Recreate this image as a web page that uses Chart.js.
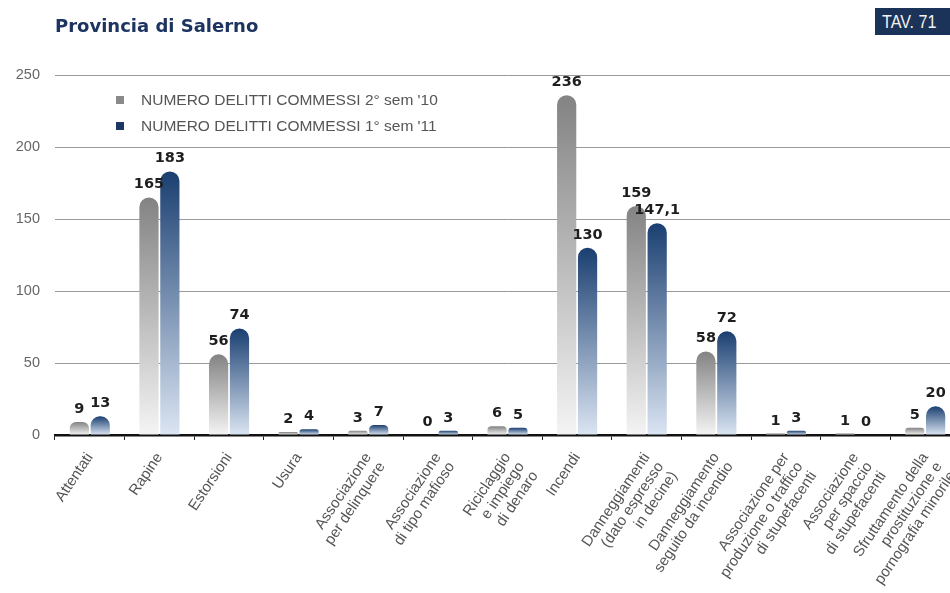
<!DOCTYPE html>
<html>
<head>
<meta charset="utf-8">
<script src="https://cdn.jsdelivr.net/npm/chart.js@4.4.1/dist/chart.umd.min.js"></script>
<style>
    body { margin: 0; width: 950px; height: 593px; overflow: hidden; background: #fff; position: relative; }
    .title { position: absolute; left: 55px; top: 15px; font-family: "DejaVu Sans", sans-serif; font-weight: bold; font-size: 18px; color: #1d3461; }
    .tav { position: absolute; left: 875px; top: 8px; width: 85px; height: 27px; background: #1b3358; }
    .tav span { position: absolute; left: 7px; top: 3px; color: #f2f2f2; font-family: "Liberation Sans", sans-serif; font-size: 19px; transform: scaleX(0.85); transform-origin: left top; }
    .wrap { position: absolute; left: 0; top: 0; width: 960px; height: 593px; }
    .legend { position: absolute; left: 116px; top: 90px; font-family: "Liberation Sans", Arial, sans-serif; font-size: 15.5px; color: #555; }
    .legend div { height: 26px; line-height: 20px; white-space: nowrap; }
    .legend span { display: inline-block; width: 8px; height: 8px; margin-right: 17px; vertical-align: 1px; }
</style>
</head>
<body>
<div class="wrap"><canvas id="chart" width="960" height="593"></canvas></div>
<div class="title">Provincia di Salerno</div>
<div class="tav"><span>TAV. 71</span></div>
<div class="legend">
    <div><span style="background:#8a8a8a"></span>NUMERO DELITTI COMMESSI 2° sem '10</div>
    <div><span style="background:#1c3561"></span>NUMERO DELITTI COMMESSI 1° sem '11</div>
</div>
<script>
// Categories
const categories = [
    ['Attentati'],
    ['Rapine'],
    ['Estorsioni'],
    ['Usura'],
    ['Associazione', 'per delinquere'],
    ['Associazione', 'di tipo mafioso'],
    ['Riciclaggio', 'e impiego', 'di denaro'],
    ['Incendi'],
    ['Danneggiamenti', '(dato espresso', 'in decine)'],
    ['Danneggiamento', 'seguito da incendio'],
    ['Associazione per', 'produzione o traffico', 'di stupefacenti'],
    ['Associazione', 'per spaccio', 'di stupefacenti'],
    ['Sfruttamento della', 'prostituzione e', 'pornografia minorile']
];

// Series
const sem2_10 = [9, 165, 56, 2, 3, 0, 6, 236, 159, 58, 1, 1, 5];
const sem1_11 = [13, 183, 74, 4, 7, 3, 5, 130, 147.1, 72, 3, 0, 20];
const seriesNames = ["NUMERO DELITTI COMMESSI 2° sem '10", "NUMERO DELITTI COMMESSI 1° sem '11"];

// Y ticks
const yTicks = [0, 50, 100, 150, 200, 250];

// gradient from top of each bar down to the base
function barGradient(context, top, bottom) {
    const chart = context.chart;
    if (!chart.chartArea || context.type !== 'data') return top;
    const y = chart.scales.y;
    const y0 = y.getPixelForValue(context.raw);
    const y1 = y.getPixelForValue(0);
    if (y1 - y0 < 1) return top;
    const g = chart.ctx.createLinearGradient(0, y0, 0, y1);
    g.addColorStop(0, top);
    g.addColorStop(1, bottom);
    return g;
}

const valueLabels = {
    id: 'valueLabels',
    afterDatasetsDraw(chart) {
        const ctx = chart.ctx;
        ctx.save();
        ctx.font = 'bold 14.5px "DejaVu Sans", sans-serif';
        ctx.fillStyle = '#1e1e1e';
        ctx.textAlign = 'center';
        ctx.textBaseline = 'alphabetic';
        chart.data.datasets.forEach((ds, i) => {
            chart.getDatasetMeta(i).data.forEach((bar, j) => {
                const txt = String(ds.data[j]).replace('.', ',');
                ctx.fillText(txt, bar.x, bar.y - 9);
            });
        });
        ctx.restore();
    }
};

function renderChart() {
    const ctx = document.getElementById('chart').getContext('2d');
    new Chart(ctx, {
        type: 'bar',
        data: {
            labels: categories,
            datasets: [{
                label: seriesNames[0],
                data: sem2_10,
                backgroundColor: c => barGradient(c, '#838383', '#f4f4f4'),
                borderRadius: { topLeft: 10, topRight: 10 },
                categoryPercentage: 0.6,
                barPercentage: 0.92
            }, {
                label: seriesNames[1],
                data: sem1_11,
                backgroundColor: c => barGradient(c, '#1a3f70', '#dbe5f3'),
                borderRadius: { topLeft: 10, topRight: 10 },
                categoryPercentage: 0.6,
                barPercentage: 0.92
            }]
        },
        options: {
            responsive: false,
            animation: false,
            layout: { padding: { top: 75, right: 0, left: 0, bottom: 0 } },
            plugins: {
                legend: { display: false },
                tooltip: { enabled: false }
            },
            scales: {
                x: {
                    grid: { offset: true, drawOnChartArea: false, drawTicks: true, tickLength: 5, color: '#222', lineWidth: 1 },
                    border: { display: true, color: '#111', width: 2.5 },
                    ticks: {
                        minRotation: 56, maxRotation: 56, autoSkip: false, padding: 10,
                        color: '#555',
                        font: { family: '"Liberation Sans", Arial, sans-serif', size: 15, lineHeight: 1.1 }
                    },
                    afterFit: s => { s.height = 158; s.paddingLeft = 0; s.paddingRight = 0; }
                },
                y: {
                    min: 0, max: 250,
                    afterBuildTicks: s => { s.ticks = yTicks.map(v => ({ value: v })); },
                    grid: { color: '#999', lineWidth: 1, drawTicks: false },
                    border: { display: false },
                    ticks: {
                        padding: 15, color: '#666',
                        font: { family: '"Liberation Sans", sans-serif', size: 14.5 }
                    },
                    afterFit: s => { s.width = 55; }
                }
            }
        },
        plugins: [valueLabels]
    });
}

document.addEventListener('DOMContentLoaded', renderChart);
</script>
</body>
</html>
